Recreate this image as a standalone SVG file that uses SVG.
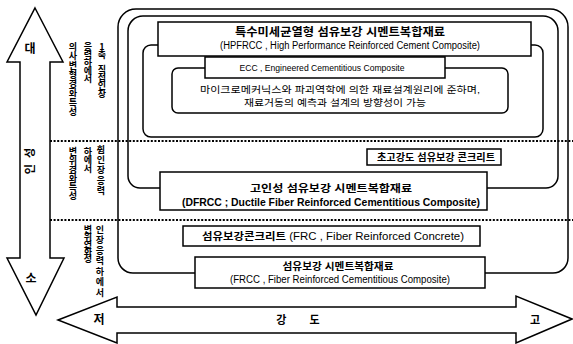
<svg xmlns="http://www.w3.org/2000/svg" width="573" height="344" viewBox="0 0 573 344">
<style>
.ln{fill:none;stroke:#000;stroke-width:1.5}
.bx{fill:#fff;stroke:#000;stroke-width:1.5}
.dot{stroke:#000;stroke-width:1.8;stroke-dasharray:2 1.6;fill:none}
.k{font-family:"Liberation Sans","Noto Sans CJK KR",sans-serif;fill:#000}
.b{font-weight:bold}
.v{font-family:"Noto Sans CJK KR",sans-serif;font-weight:bold;font-size:9px;fill:#000;writing-mode:vertical-rl;text-orientation:upright}
</style>
<g id="axis-vertical">
<polygon class="bx" points="35,8 63,62 50,62 50,258 64,258 36,315 7,258 20,258 20,62 7,62"/>
<text class="k b" x="30" y="53" font-size="12" text-anchor="middle">대</text>
<text class="k b" font-size="11" text-anchor="middle" letter-spacing="6" transform="translate(34,158) rotate(-90)">인성</text>
<text class="k b" x="31" y="283" font-size="12" text-anchor="middle">소</text>
</g>
<g id="axis-horizontal">
<polygon class="bx" points="58,320 117,297 117,307 516,307 516,296 572,319 516,343 516,333 117,333 117,343"/>
<text class="k b" x="99" y="324" font-size="12" text-anchor="middle">저</text>
<text class="k b" x="303" y="324" font-size="11" text-anchor="middle" letter-spacing="10">강 도</text>
<text class="k b" x="535" y="324" font-size="11" text-anchor="middle">고</text>
</g>
<g id="dividers">
<line class="dot" x1="50" y1="141" x2="573" y2="141"/>
<line class="dot" x1="50" y1="220" x2="573" y2="220"/>
</g>
<g id="labels-left">
<text class="v" x="102" y="42" letter-spacing="-1.2">1축 직접인장</text>
<text class="v" x="88" y="42" letter-spacing="-1">응력하에서</text>
<text class="v" x="73" y="42" letter-spacing="0.3">의사변형경화특성</text>
<text class="v" x="101" y="145" letter-spacing="1.2">휨인장응력</text>
<text class="v" x="88" y="147" letter-spacing="-0.5">하에서</text>
<text class="v" x="73" y="147" letter-spacing="-0.2">변위경화특성</text>
<text class="v" x="100" y="225" letter-spacing="1.5">인장응력하에서</text>
<text class="v" x="88" y="225" letter-spacing="-1.7">변위연화성</text>
</g>
<g id="connectors">
<path class="ln" d="M195,273 H133 A15,15 0 0 1 118,258 V27 A18,18 0 0 1 136,9 H550 A18,18 0 0 1 568,27 V258 A15,15 0 0 1 553,273 H485"/>
<path class="ln" d="M160,188 H140 A12,12 0 0 1 128,176 V31 A15,15 0 0 1 143,16 H543 A15,15 0 0 1 558,31 V176 A12,12 0 0 1 546,188 H487"/>
<path class="ln" d="M158,45 H151 A8,8 0 0 0 143,53 V129 A8,8 0 0 0 151,137 H535 A8,8 0 0 0 543,129 V53 A8,8 0 0 0 535,45 H531"/>
</g>
<g id="hpfrcc">
<rect class="bx" x="158" y="22" width="373" height="34"/>
<text class="k b" x="340" y="36" font-size="11" text-anchor="middle" textLength="210" lengthAdjust="spacingAndGlyphs">특수미세균열형 섬유보강 시멘트복합재료</text>
<text class="k" x="350" y="49" font-size="10" text-anchor="middle" textLength="260" lengthAdjust="spacingAndGlyphs">(HPFRCC , High Performance Reinforced Cement Composite)</text>
</g>
<g id="ecc">
<rect class="bx" x="172" y="68" width="336" height="45" rx="6"/>
<rect class="bx" x="205" y="57" width="240" height="21"/>
<text class="k" x="322" y="70.5" font-size="9" text-anchor="middle" textLength="165" lengthAdjust="spacingAndGlyphs">ECC , Engineered Cementitious Composite</text>
<text class="k" x="340" y="92.5" font-size="9.5" text-anchor="middle" textLength="280" lengthAdjust="spacingAndGlyphs">마이크로메커닉스와 파괴역학에 의한 재료설계원리에 준하며,</text>
<text class="k" x="335" y="105.5" font-size="9.5" text-anchor="middle" textLength="182" lengthAdjust="spacingAndGlyphs">재료거동의 예측과 설계의 방향성이 가능</text>
</g>
<g id="uhpfrc">
<rect class="bx" x="367" y="149" width="134" height="16"/>
<text class="k b" x="436" y="160.5" font-size="10" text-anchor="middle" textLength="118" lengthAdjust="spacingAndGlyphs">초고강도 섬유보강 콘크리트</text>
</g>
<g id="dfrcc">
<rect class="bx" x="160" y="172" width="327" height="38"/>
<text class="k b" x="331" y="192" font-size="10.5" text-anchor="middle" textLength="162" lengthAdjust="spacingAndGlyphs">고인성 섬유보강 시멘트복합재료</text>
<text class="k b" x="331" y="206" font-size="10.5" text-anchor="middle" textLength="298" lengthAdjust="spacingAndGlyphs">(DFRCC ; Ductile Fiber Reinforced Cementitious Composite)</text>
</g>
<g id="frc">
<rect class="bx" x="183" y="226" width="297" height="20"/>
<text class="k" x="333" y="239.5" font-size="10" text-anchor="middle" textLength="262" lengthAdjust="spacingAndGlyphs"><tspan font-weight="bold">섬유보강콘크리트</tspan> (FRC , Fiber Reinforced Concrete)</text>
</g>
<g id="frcc">
<rect class="bx" x="195" y="257" width="290" height="31"/>
<text class="k b" x="338" y="269.5" font-size="10" text-anchor="middle" textLength="111" lengthAdjust="spacingAndGlyphs">섬유보강 시멘트복합재료</text>
<text class="k" x="340" y="282.5" font-size="10" text-anchor="middle" textLength="220" lengthAdjust="spacingAndGlyphs">(FRCC , Fiber Reinforced Cementitious Composite)</text>
</g>
</svg>
